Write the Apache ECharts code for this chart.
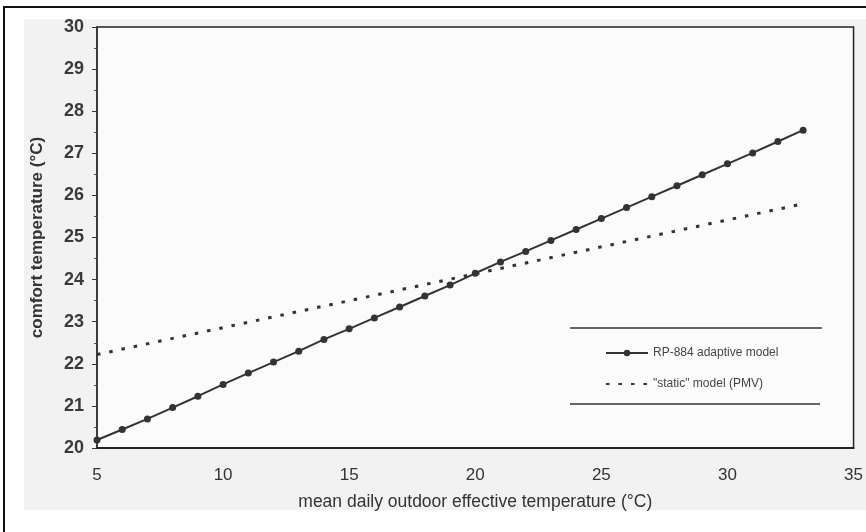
<!DOCTYPE html>
<html>
<head>
<meta charset="utf-8">
<script src="https://cdn.jsdelivr.net/npm/echarts@6/dist/echarts.min.js"></script>
<style>html,body{margin:0;padding:0;background:#fff;overflow:hidden;}#c{width:866px;height:532px;}</style>
</head>
<body>
<div id="c"></div>
<script>
const outdoorTemps = [5,6,7,8,9,10,11,12,13,14,15,16,17,18,19,20,21,22,23,24,25,26,27,28,29,30,31,32,33];
const adaptiveModel = [20.19,20.44,20.69,20.96,21.23,21.51,21.78,22.04,22.3,22.58,22.83,23.09,23.35,23.61,23.87,24.15,24.42,24.67,24.93,25.19,25.45,25.71,25.97,26.23,26.49,26.75,27.01,27.28,27.55];
const staticX = [5, 33];
const staticModel = [22.22, 25.8];
const xTicks = [5,10,15,20,25,30,35];
const yTicks = [20,21,22,23,24,25,26,27,28,29,30];

const chart = echarts.init(document.getElementById('c'), null, {renderer:'canvas'});
const font = 'Liberation Sans, Arial, sans-serif';
chart.setOption({
  animation:false,
  backgroundColor:'#ffffff',
  graphic:[
    {type:'rect', z:-10, shape:{x:24,y:19,width:842,height:491}, style:{fill:'#f2f2f2'}},
    {type:'rect', z:-9, shape:{x:4,y:7,width:900,height:600}, style:{fill:'none',stroke:'#111',lineWidth:2}},
    {type:'line', z:10, shape:{x1:570,y1:328,x2:822,y2:328}, style:{stroke:'#333',lineWidth:1.5}},
    {type:'line', z:10, shape:{x1:570,y1:404,x2:820,y2:404}, style:{stroke:'#333',lineWidth:1.5}}
  ],
  grid:{left:97, right:1, top:27, bottom:84, show:true, backgroundColor:'#fbfbfb', borderColor:'#222', borderWidth:1.5},
  legend:{
    orient:'vertical', left:600, top:342, itemWidth:42, itemHeight:8, itemGap:19,
    textStyle:{fontFamily:font, fontSize:12, color:'#444'},
    data:['RP-884 adaptive model','"static" model (PMV)']
  },
  xAxis:{
    type:'value', min:5, max:35, interval:5,
    name:'mean daily outdoor effective temperature (°C)', nameLocation:'middle', nameGap:45,
    nameTextStyle:{fontFamily:font, fontSize:17.5, color:'#333'},
    axisLine:{show:true, lineStyle:{color:'#222', width:2}},
    axisTick:{show:false},
    axisLabel:{fontFamily:font, fontSize:17, color:'#333', margin:19,
      formatter:v=>xTicks.includes(v)?String(v):''},
    splitLine:{show:false}
  },
  yAxis:{
    type:'value', min:20, max:30, interval:1,
    name:'comfort temperature (°C)', nameLocation:'middle', nameGap:51,
    nameTextStyle:{fontFamily:font, fontSize:17, color:'#333', fontWeight:'bold'},
    axisLine:{show:true, lineStyle:{color:'#333', width:1.5}},
    axisTick:{show:true, length:5, lineStyle:{color:'#333'}},
    minorTick:{show:true, splitNumber:2, length:3, lineStyle:{color:'#555'}},
    axisLabel:{fontFamily:font, fontSize:18, color:'#3a3a3a', fontWeight:'bold', margin:13,
      formatter:v=>yTicks.includes(v)?String(v):''},
    splitLine:{show:false}
  },
  series:[
    {
      name:'RP-884 adaptive model', type:'line',
      data:outdoorTemps.map((x,i)=>[x, adaptiveModel[i]]),
      symbol:'circle', symbolSize:7,
      itemStyle:{color:'#333'},
      lineStyle:{color:'#333', width:2}
    },
    {
      name:'"static" model (PMV)', type:'line',
      data:staticX.map((x,i)=>[x, staticModel[i]]),
      symbol:'none',
      itemStyle:{color:'rgba(0,0,0,0)'},
      lineStyle:{color:'#333', width:3, type:[3.5,9]}
    }
  ]
});
</script>
</body>
</html>
